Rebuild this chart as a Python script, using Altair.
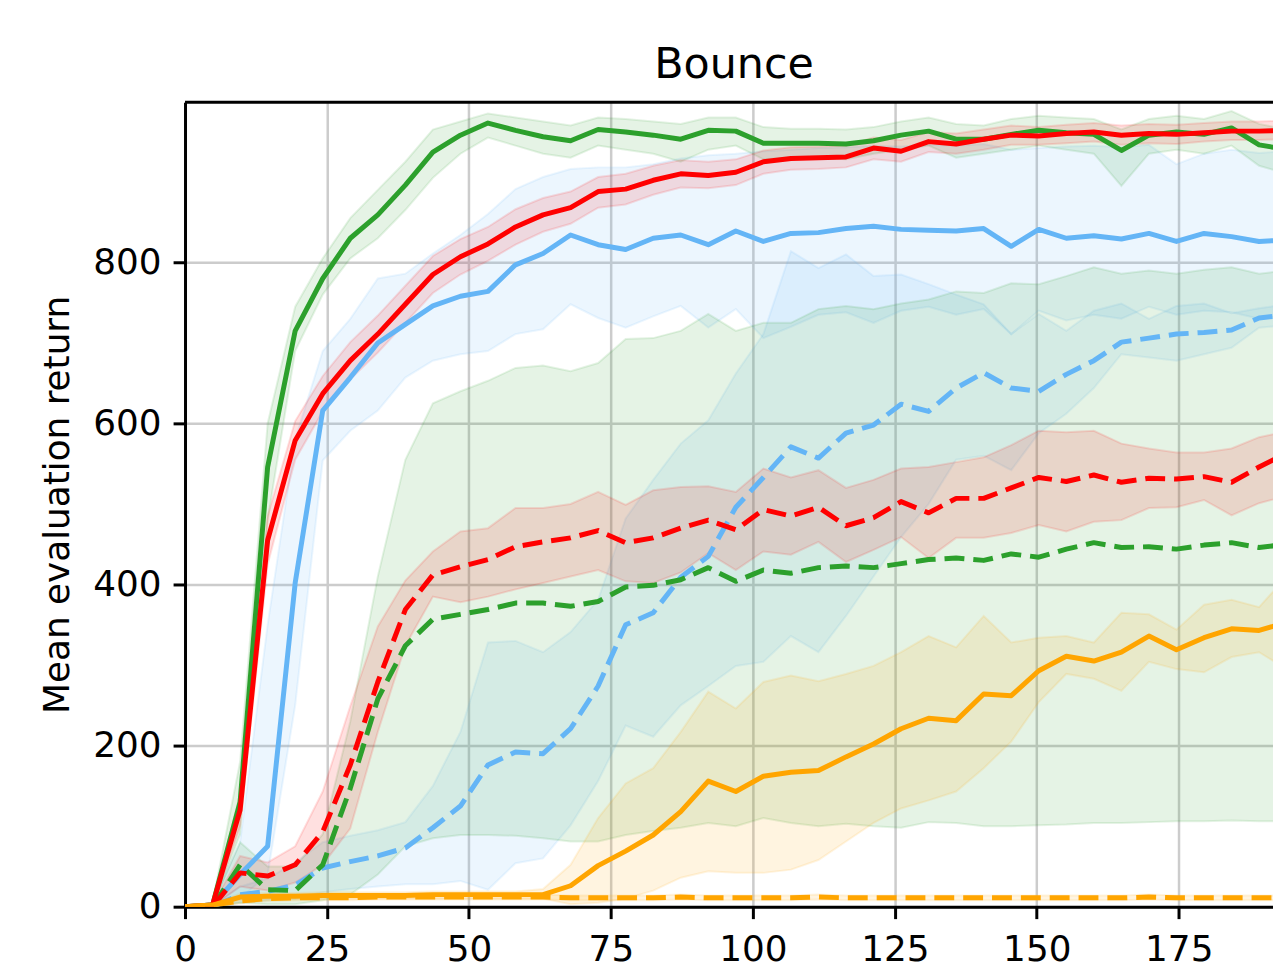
import altair as alt
import pandas as pd

# x positions of the evaluation points
X = [0.0, 4.85, 9.7, 14.55, 19.4, 24.25, 29.1, 33.95, 38.8, 43.65, 48.5, 53.35, 58.2, 63.05,
     67.9, 72.75, 77.6, 82.45, 87.3, 92.15, 97.0, 101.85, 106.7, 111.55, 116.4, 121.25, 126.1,
     130.95, 135.8, 140.65, 145.5, 150.35, 155.2, 160.05, 164.9, 169.75, 174.6, 179.45, 184.3,
     189.15, 194.0]

# green solid
GS = [0, 2, 130, 546, 715, 780, 830, 859, 896, 937, 958, 973, 964, 956, 951, 965, 962, 958, 953, 964, 963, 948, 948, 948, 947, 951, 958, 963, 953, 953, 959, 964, 961, 959, 939, 958, 962, 959, 967, 946, 940]
GS_lo = [0, 0, 90, 480, 690, 760, 805, 830, 865, 905, 935, 955, 945, 935, 930, 945, 940, 935, 925, 940, 945, 928, 930, 930, 928, 935, 940, 945, 930, 935, 940, 945, 940, 935, 895, 935, 940, 935, 945, 920, 910]
GS_hi = [0, 5, 180, 600, 745, 805, 855, 890, 925, 965, 975, 985, 980, 975, 970, 980, 978, 975, 972, 980, 980, 968, 966, 966, 965, 968, 975, 980, 972, 970, 978, 982, 980, 978, 965, 978, 982, 978, 988, 972, 965]

# red solid
RS = [0, 2, 120, 455, 579, 637, 678, 711, 748, 785, 807, 823, 844, 859, 868, 888, 891, 902, 910, 908, 912, 925, 929, 930, 931, 942, 938, 950, 947, 953, 958, 957, 960, 962, 958, 960, 959, 961, 963, 963, 964]
RS_lo = [0, 0, 100, 425, 555, 615, 655, 688, 725, 762, 785, 802, 822, 838, 848, 868, 872, 884, 893, 892, 896, 910, 915, 916, 918, 928, 925, 937, 935, 940, 946, 946, 948, 950, 946, 948, 947, 950, 952, 952, 953]
RS_hi = [0, 4, 140, 485, 603, 659, 701, 734, 771, 808, 829, 844, 866, 880, 888, 906, 910, 920, 927, 925, 928, 939, 943, 944, 945, 955, 952, 962, 960, 965, 970, 968, 971, 973, 970, 972, 971, 973, 975, 975, 976]

# blue solid
BS = [0, 2, 40, 75, 402, 616, 657, 700, 723, 746, 758, 764, 797, 811, 834, 822, 816, 830, 834, 822, 839, 826, 836, 837, 842, 845, 841, 840, 839, 842, 820, 841, 830, 833, 829, 836, 826, 836, 832, 826, 828]
BS_lo = [0, 0, 10, 40, 250, 554, 591, 616, 657, 678, 686, 690, 711, 717, 748, 731, 719, 733, 746, 719, 742, 706, 720, 735, 738, 725, 740, 745, 735, 742, 711, 740, 728, 735, 730, 745, 735, 740, 738, 730, 735]
BS_hi = [0, 5, 80, 350, 580, 690, 730, 780, 786, 811, 834, 860, 891, 906, 916, 918, 918, 922, 929, 933, 935, 938, 940, 942, 943, 945, 944, 946, 945, 947, 940, 942, 944, 945, 943, 946, 922, 935, 940, 936, 938]

# red dashed
RD = [0, 0, 42, 38, 52, 93, 176, 279, 369, 412, 422, 431, 447, 453, 458, 467, 452, 458, 470, 480, 468, 493, 485, 496, 473, 483, 503, 489, 507, 507, 520, 533, 528, 536, 527, 532, 531, 534, 527, 546, 563]
RD_lo = [0, 0, 25, 20, 30, 52, 97, 217, 324, 385, 378, 385, 394, 402, 410, 418, 404, 402, 415, 439, 418, 441, 437, 453, 428, 443, 459, 433, 458, 458, 464, 474, 466, 478, 480, 495, 496, 505, 486, 501, 510]
RD_hi = [0, 3, 63, 55, 75, 143, 249, 348, 405, 441, 466, 470, 495, 495, 500, 515, 499, 517, 521, 522, 515, 544, 533, 542, 520, 530, 544, 546, 552, 558, 573, 591, 589, 591, 575, 569, 564, 564, 569, 583, 590]

# green dashed
GD = [0, 0, 52, 21, 20, 52, 147, 258, 324, 357, 363, 369, 377, 377, 373, 379, 397, 399, 406, 421, 404, 418, 414, 421, 423, 421, 426, 431, 433, 430, 438, 434, 444, 452, 446, 447, 444, 449, 452, 446, 450]
GD_lo = [0, 0, 5, 3, 3, 8, 15, 40, 75, 85, 89, 89, 88, 85, 81, 81, 89, 94, 98, 104, 100, 110, 104, 100, 103, 100, 98, 105, 104, 100, 100, 101, 102, 104, 104, 105, 106, 106, 107, 106, 106]
GD_hi = [0, 3, 80, 50, 50, 90, 230, 410, 555, 625, 640, 653, 669, 672, 665, 675, 705, 706, 715, 736, 715, 725, 725, 742, 746, 742, 749, 754, 764, 762, 774, 773, 783, 794, 786, 790, 786, 791, 794, 786, 790]

# blue dashed
BD = [0, 0, 15, 19, 27, 48, 56, 63, 73, 98, 125, 176, 192, 190, 221, 274, 350, 365, 409, 435, 496, 533, 571, 557, 588, 598, 624, 615, 644, 663, 644, 640, 661, 678, 701, 706, 711, 713, 716, 731, 735]
BD_lo = [0, 0, 5, 8, 10, 18, 22, 25, 28, 28, 32, 21, 54, 60, 101, 156, 225, 211, 250, 274, 299, 304, 336, 316, 361, 410, 459, 500, 555, 560, 542, 588, 612, 644, 686, 682, 678, 686, 694, 719, 722]
BD_hi = [0, 3, 25, 35, 55, 80, 88, 95, 105, 150, 217, 328, 330, 316, 341, 381, 482, 530, 575, 604, 662, 711, 814, 793, 810, 783, 785, 773, 760, 748, 711, 736, 715, 740, 749, 730, 746, 749, 737, 743, 748]

# orange solid
OS = [0, 2, 12, 13, 13, 14, 14, 14, 14, 15, 15, 15, 15, 15, 26, 51, 69, 89, 118, 156, 143, 162, 167, 169, 186, 202, 221, 234, 231, 264, 262, 293, 311, 305, 316, 336, 319, 334, 345, 343, 353]
OS_lo = [0, 0, 8, 9, 9, 10, 10, 10, 10, 10, 10, 10, 10, 10, 3, 5, 10, 20, 36, 44, 42, 42, 46, 58, 81, 104, 122, 132, 143, 172, 205, 254, 289, 283, 268, 304, 295, 291, 310, 316, 295]
OS_hi = [0, 4, 16, 17, 17, 18, 18, 18, 18, 19, 19, 19, 19, 22, 52, 110, 153, 172, 217, 267, 246, 279, 287, 280, 289, 299, 316, 336, 322, 361, 328, 334, 336, 328, 365, 363, 344, 375, 381, 372, 410]

# orange dashed
OD = [0, 2, 7, 10, 11, 11, 11, 12, 12, 12, 12, 12, 12, 12, 11, 11, 11, 11, 12, 11, 11, 11, 11, 12, 11, 11, 11, 11, 11, 11, 11, 11, 11, 11, 11, 12, 11, 11, 11, 11, 11]
OD_lo = [0, 0, 4, 7, 8, 8, 8, 9, 9, 9, 9, 9, 9, 9, 8, 8, 8, 8, 9, 8, 8, 8, 8, 9, 8, 8, 8, 8, 8, 8, 8, 8, 8, 8, 8, 9, 8, 8, 8, 8, 8]
OD_hi = [0, 4, 10, 13, 14, 14, 14, 15, 15, 15, 15, 15, 15, 15, 14, 14, 14, 14, 15, 14, 14, 14, 14, 15, 14, 14, 14, 14, 14, 14, 14, 14, 14, 14, 14, 15, 14, 14, 14, 14, 14]

X_TICKS = [0, 25, 50, 75, 100, 125, 150, 175]
Y_TICKS = [0, 200, 400, 600, 800]

GREEN = "#2ca02c"
RED = "#ff0000"
BLUE = "#64b5f6"
ORANGE = "#ffa500"
FONT = "DejaVu Sans"

W, H = 1094, 809

series = [
    ("bd", BD, BD_lo, BD_hi, BLUE, True),
    ("bs", BS, BS_lo, BS_hi, BLUE, False),
    ("gd", GD, GD_lo, GD_hi, GREEN, True),
    ("gs", GS, GS_lo, GS_hi, GREEN, False),
    ("rd", RD, RD_lo, RD_hi, RED, True),
    ("rs", RS, RS_lo, RS_hi, RED, False),
    ("od", OD, OD_lo, OD_hi, ORANGE, True),
    ("os", OS, OS_lo, OS_hi, ORANGE, False),
]

xscale = alt.Scale(domain=[0, 191.6], nice=False, zero=False)
yscale = alt.Scale(domain=[0, 999], nice=False)

xaxis = alt.Axis(values=X_TICKS, title=None, grid=True, gridColor="#cccccc", gridWidth=2.5,
                 domainColor="black", domainWidth=3, tickColor="black", tickWidth=3, tickSize=12,
                 labelFont=FONT, labelFontSize=36, labelColor="black", labelPadding=14,
                 labelFlush=False, labelOverlap=False)
yaxis = alt.Axis(values=Y_TICKS, title="Mean evaluation return", grid=True, gridColor="#cccccc",
                 gridWidth=2.5, domainColor="black", domainWidth=3, tickColor="black", tickWidth=3,
                 tickSize=12, labelFont=FONT, labelFontSize=36, labelColor="black", labelPadding=12,
                 titleFont=FONT, titleFontSize=36, titleFontWeight="normal", titleColor="black",
                 titlePadding=16, labelFlush=False)

areas = []
lines = []
for name, v, lo, hi, col, dashed in series:
    df = pd.DataFrame({"x": X, "y": v, "lo": lo, "hi": hi})
    base = alt.Chart(df)
    areas.append(
        base.mark_area(color=col, fillOpacity=0.12, stroke=col, strokeOpacity=0.12,
                       strokeWidth=2, clip=True)
        .encode(x=alt.X("x:Q", scale=xscale, axis=xaxis),
                y=alt.Y("lo:Q", scale=yscale, axis=yaxis),
                y2="hi:Q")
    )
    kw = dict(color=col, strokeWidth=5, clip=True, strokeJoin="round")
    if dashed:
        kw["strokeDash"] = [20, 9]
    lines.append(
        base.mark_line(**kw)
        .encode(x=alt.X("x:Q", scale=xscale, axis=xaxis),
                y=alt.Y("y:Q", scale=yscale, axis=yaxis))
    )

border = alt.Chart(pd.DataFrame({"k": [0]})).mark_rule(color="black", strokeWidth=3).encode(
    x=alt.value(0), x2=alt.value(W), y=alt.value(0)
)

chart = alt.layer(*areas, *lines, border).properties(
    width=W,
    height=H,
    title=alt.TitleParams(text="Bounce", fontSize=43, font=FONT, fontWeight="normal",
                          color="black", frame="group", anchor="middle", offset=21, dx=5,
                          dy=41, baseline="alphabetic"),
    autosize=alt.AutoSizeParams(type="none"),
    padding={"left": 178, "top": 92, "right": 0, "bottom": 62},
).configure_view(strokeWidth=0)

chart.save("out.html", embed_options={"renderer": "svg", "actions": False})
